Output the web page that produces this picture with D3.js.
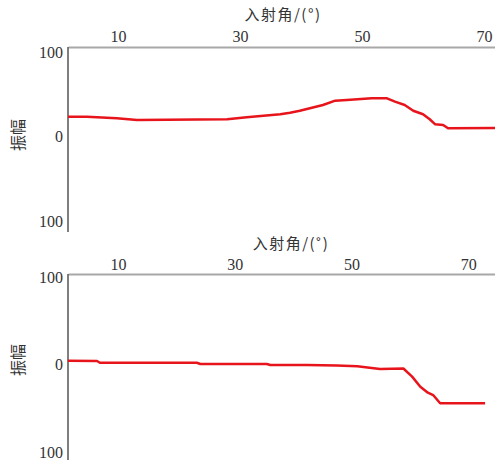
<!DOCTYPE html>
<html>
<head>
<meta charset="utf-8">
<script src="https://cdn.jsdelivr.net/npm/d3@7"></script>
<style>
  body { margin: 0; background: #fff; }
  svg { display: block; }
</style>
</head>
<body>
<div id="vis"></div>
<script>
// incidence angle (deg) and amplitude
let topAngle = [1.8, 4.9, 9.8, 13.1, 27.9, 31.1, 36.6, 38.2, 39.8, 43.6, 45.6, 47.5, 51.6, 54.1, 55.4, 57.0, 58.4, 60.0, 61.1, 62.0, 63.3, 64.1, 71.8]
let topAmp = [23.4, 23.4, 21.5, 19.5, 20.4, 22.7, 26.3, 28.2, 30.5, 37.3, 42.4, 43.2, 45.2, 45.2, 41.2, 37.3, 30.5, 26.3, 20.4, 14.4, 13.6, 9.7, 10.2]

let bottomAngle = [1.4, 6.4, 6.9, 23.5, 24.1, 35.5, 36.1, 42.4, 47.5, 51.0, 54.9, 58.9, 60.4, 61.8, 63.1, 64.0, 65.2, 72.9]
let bottomAmp = [4.3, 4.0, 2.0, 2.0, 0.6, 0.6, -0.6, -0.6, -1.2, -2.0, -5.1, -4.6, -13.9, -25.4, -32.2, -34.9, -44.3, -44.3]

let xTicks = [10, 30, 50, 70]
let yTicks = [100, 0, -100]
let xTitles = ['入射角/(°)', '入射角/(˚)']
let yTitle = '振幅'

let width = 495, height = 465

let svg = d3.select('#vis')
  .append('svg')
  .attr('width', width)
  .attr('height', height)

// panel layout
let panels = [
  { angle: topAngle, amp: topAmp, xDomain: [1.8, 71.8], axisY: 47, yRange: [221, 52], yEnd: 232,
    titleX: 283, titleY: 20, tickPad: 5, yTitleY: 135, title: xTitles[0] },
  { angle: bottomAngle, amp: bottomAmp, xDomain: [1.43, 74.6], axisY: 274, yRange: [452, 277], yEnd: 460,
    titleX: 291, titleY: 249, tickPad: 4, yTitleY: 360, title: xTitles[1] }
]

let left = 68

panels.forEach(p => {
  let x = d3.scaleLinear().domain(p.xDomain).range([left, width])
  let y = d3.scaleLinear().domain([-100, 100]).range(p.yRange)

  let g = svg.append('g')

  // top axis with angle ticks
  let xAxis = g.append('g')
    .attr('transform', `translate(0,${p.axisY})`)
    .call(d3.axisTop(x).tickValues(xTicks).tickSize(0).tickPadding(p.tickPad).tickSizeOuter(0))
  xAxis.select('.domain').attr('stroke', '#a8a8a8').attr('stroke-width', 2)
  xAxis.selectAll('text')
    .attr('font-family', '"Liberation Serif", serif')
    .attr('font-size', 16)
    .attr('fill', '#333')

  // left axis
  let yAxis = g.append('g')
    .attr('transform', `translate(${left},0)`)
    .call(d3.axisLeft(y).tickValues(yTicks).tickSize(0).tickPadding(5).tickFormat(d => Math.abs(d)))
  yAxis.select('.domain').remove()
  yAxis.selectAll('text')
    .attr('font-family', '"Liberation Serif", serif')
    .attr('font-size', 16)
    .attr('fill', '#333')

  g.append('line')
    .attr('x1', left).attr('x2', left)
    .attr('y1', p.axisY).attr('y2', p.yEnd)
    .attr('stroke', '#555')
    .attr('stroke-width', 1.5)

  // titles
  g.append('text')
    .attr('x', p.titleX)
    .attr('y', p.titleY)
    .attr('text-anchor', 'middle')
    .attr('font-family', '"Noto Sans CJK SC", sans-serif')
    .attr('font-size', 15)
    .attr('letter-spacing', 1.5)
    .attr('fill', '#333')
    .text(p.title)

  g.append('text')
    .attr('transform', `translate(24,${p.yTitleY}) rotate(-90)`)
    .attr('text-anchor', 'middle')
    .attr('font-family', '"Noto Sans CJK SC", sans-serif')
    .attr('font-size', 16)
    .attr('fill', '#333')
    .text(yTitle)

  // amplitude curve
  let line = d3.line()
    .x((d, i) => x(p.angle[i]))
    .y(d => y(d))

  g.append('path')
    .datum(p.amp)
    .attr('d', line)
    .attr('fill', 'none')
    .attr('stroke', '#e8141c')
    .attr('stroke-width', 2.5)
    .attr('stroke-linejoin', 'round')
})
</script>
</body>
</html>
